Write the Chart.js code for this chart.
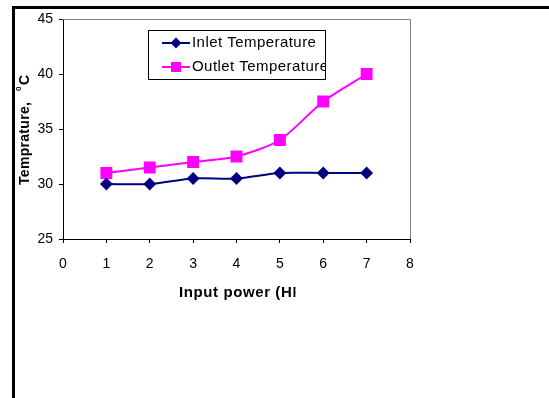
<!DOCTYPE html>
<html>
<head>
<meta charset="utf-8">
<script src="https://cdn.jsdelivr.net/npm/chart.js@4"></script>
<style>
  html, body { margin: 0; padding: 0; background: #fff; }
  #wrap { position: relative; width: 549px; height: 398px; }
</style>
</head>
<body>
<div id="wrap"><canvas id="chart" width="549" height="398"></canvas></div>
<script>
// values
const powers = [1, 2, 3, 4, 5, 6, 7];
const inletTemp = [30, 30, 30.5, 30.5, 31, 31, 31];
const outletTemp = [31, 31.5, 32, 32.5, 34, 37.5, 40];
const seriesNames = ['Inlet Temperature', 'Outlet Temperature'];
const xTitle = 'Input power (HP)';
const yTitle = 'Temprature,';

const FONT = 'Arial, "Liberation Sans", sans-serif';

// frame, axis titles and the boxed legend
const extras = {
  id: 'extras',
  afterDraw(chart) {
    const ctx = chart.ctx;
    const a = chart.chartArea;
    ctx.save();

    // page border (left and top)
    ctx.fillStyle = '#000';
    ctx.fillRect(12, 6, 549 - 12, 3);
    ctx.fillRect(12, 6, 3, 398 - 6);

    // grey top / right edge of the plot area
    ctx.strokeStyle = '#808080';
    ctx.lineWidth = 1;
    ctx.beginPath();
    ctx.moveTo(a.left, a.top + 0.5);
    ctx.lineTo(a.right + 0.5, a.top + 0.5);
    ctx.lineTo(a.right + 0.5, a.bottom);
    ctx.stroke();

    // x title, cut off like the original
    ctx.save();
    ctx.beginPath();
    ctx.rect(0, 270, 295.5, 40);
    ctx.clip();
    ctx.fillStyle = '#000';
    ctx.font = 'bold 15px ' + FONT;
    ctx.letterSpacing = '0.6px';
    ctx.textBaseline = 'alphabetic';
    ctx.textAlign = 'left';
    ctx.fillText(xTitle, 179, 297);
    ctx.restore();

    // y title, rotated, with superscript 0
    ctx.save();
    ctx.translate(29, 185);
    ctx.rotate(-Math.PI / 2);
    ctx.fillStyle = '#000';
    ctx.font = 'bold 14px ' + FONT;
    ctx.letterSpacing = '0.3px';
    ctx.textAlign = 'left';
    ctx.fillText(yTitle, 0, 0);
    ctx.font = 'bold 8px ' + FONT;
    ctx.fillText('0', 94, -8);
    ctx.font = 'bold 14px ' + FONT;
    ctx.fillText('C', 100, 0);
    ctx.restore();

    // legend box
    const bx = 148, by = 30, bw = 177, bh = 49;
    const markerSize = [4, 5.7];
    ctx.fillStyle = '#fff';
    ctx.fillRect(bx, by, bw, bh);
    ctx.strokeStyle = '#000';
    ctx.lineWidth = 1;
    ctx.strokeRect(bx + 0.5, by + 0.5, bw, bh);
    ctx.save();
    ctx.beginPath();
    ctx.rect(bx, by, bw, bh);
    ctx.clip();
    chart.data.datasets.forEach((ds, i) => {
      const y = by + 13 + i * 24;
      ctx.strokeStyle = ds.borderColor;
      ctx.lineWidth = 2;
      ctx.beginPath();
      ctx.moveTo(162, y);
      ctx.lineTo(190, y);
      ctx.stroke();
      Chart.helpers.drawPoint(ctx, {
        pointStyle: ds.pointStyle, radius: markerSize[i], borderWidth: 1
      }, 176, y);
      ctx.fillStyle = ds.pointBackgroundColor;
      ctx.fill();
      ctx.fillStyle = '#000';
      ctx.font = '15px ' + FONT;
      ctx.letterSpacing = '0.45px';
      ctx.textBaseline = 'middle';
      ctx.textAlign = 'left';
      ctx.fillText(ds.label, 192, y);
    });
    ctx.restore();

    ctx.restore();
  }
};

new Chart(document.getElementById('chart'), {
  type: 'line',
  data: {
    datasets: [
      {
        label: seriesNames[0],
        data: powers.map((p, i) => ({ x: p, y: inletTemp[i] })),
        borderColor: '#000080',
        backgroundColor: '#000080',
        pointBackgroundColor: '#000080',
        pointBorderColor: '#000080',
        pointStyle: 'rectRot',
        pointRadius: 5,
        borderWidth: 2,
        tension: 0.25
      },
      {
        label: seriesNames[1],
        data: powers.map((p, i) => ({ x: p, y: outletTemp[i] })),
        borderColor: '#ff00ff',
        backgroundColor: '#ff00ff',
        pointBackgroundColor: '#ff00ff',
        pointBorderColor: '#ff00ff',
        pointStyle: 'rect',
        pointRadius: 7,
        borderWidth: 2,
        tension: 0.25
      }
    ]
  },
  options: {
    responsive: false,
    animation: false,
    layout: { padding: { left: 0, top: 19, right: 139, bottom: 119 } },
    plugins: { legend: { display: false }, tooltip: { enabled: false } },
    scales: {
      x: {
        type: 'linear',
        min: 0,
        max: 8,
        afterFit: (s) => { s.height = 40; },
        ticks: { stepSize: 1, maxRotation: 0, color: '#000', padding: 13, font: { family: FONT, size: 14 } },
        grid: { drawOnChartArea: false, drawTicks: true, tickLength: 4, color: '#000' },
        border: { color: '#000', width: 1 }
      },
      y: {
        min: 25,
        max: 45,
        afterFit: (s) => { s.width = 63; },
        ticks: { stepSize: 5, color: '#000', padding: 6, font: { family: FONT, size: 14 } },
        grid: { drawOnChartArea: false, drawTicks: true, tickLength: 4, color: '#000' },
        border: { color: '#000', width: 1 }
      }
    }
  },
  plugins: [extras]
});
</script>
</body>
</html>
